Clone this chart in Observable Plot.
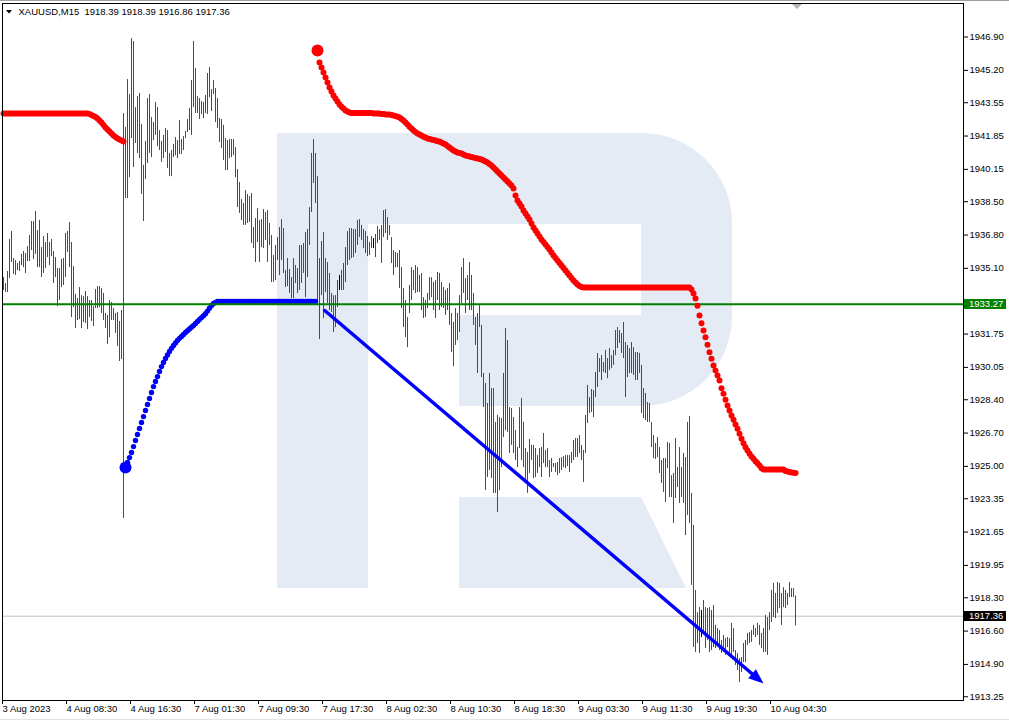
<!DOCTYPE html>
<html>
<head>
<meta charset="utf-8">
<script src="https://cdn.jsdelivr.net/npm/d3@7"></script>
<script src="https://cdn.jsdelivr.net/npm/@observablehq/plot@0.6"></script>
<style>
html,body{margin:0;padding:0;background:#fff;}
#chart{position:relative;width:1009px;height:721px;overflow:hidden;}
#chart svg{display:block;}
</style>
</head>
<body>
<div id="chart"></div>
<script>
// ---------- data ----------
const titleText = "XAUUSD,M15\u00a0\u00a01918.39 1918.39 1916.86 1917.36";

const highs = [
1934.63,1934.33,1934.94,1936.57,1936.98,1935.60,1935.50,1935.35,1935.45,1935.81,
1935.96,1935.86,1936.21,1936.78,1937.49,1937.49,1938.00,1937.03,1937.54,1936.16,
1936.72,1936.42,1936.88,1936.42,1936.57,1935.96,1935.65,1935.09,1935.09,1935.55,
1935.60,1936.88,1936.98,1937.44,1936.42,1935.19,1933.77,1933.56,1934.12,1933.71,
1933.66,1933.92,1933.66,1933.46,1933.46,1933.15,1934.02,1934.17,1934.17,1934.07,
1933.82,1932.80,1932.70,1933.46,1933.36,1933.05,1932.80,1932.85,1932.39,1932.95,
1942.99,1942.28,1944.73,1943.97,1946.82,1946.67,1943.30,1943.86,1944.02,1942.44,
1940.35,1941.57,1943.76,1943.97,1942.79,1942.54,1943.56,1943.30,1942.13,1941.57,
1941.88,1942.23,1942.13,1940.96,1941.11,1941.42,1941.77,1941.62,1942.64,1941.67,
1941.82,1942.08,1942.69,1943.25,1944.68,1946.67,1945.29,1943.86,1943.76,1943.61,
1943.56,1943.92,1945.04,1945.34,1944.22,1944.68,1944.27,1943.76,1942.74,1942.69,
1942.39,1941.72,1941.62,1941.67,1941.67,1941.67,1941.26,1940.14,1939.48,1938.61,
1938.41,1939.07,1938.87,1938.76,1938.92,1937.18,1937.64,1938.15,1937.54,1937.59,
1938.10,1937.95,1938.05,1937.39,1936.78,1935.76,1936.27,1936.67,1937.18,1937.59,
1937.13,1934.99,1935.60,1935.04,1934.63,1935.60,1935.25,1935.09,1936.27,1936.27,
1936.37,1936.93,1937.08,1938.20,1940.96,1941.67,1940.96,1939.78,1935.60,1936.47,
1936.93,1935.60,1935.40,1934.84,1933.82,1933.71,1933.71,1934.48,1934.74,1934.99,
1935.35,1936.16,1936.98,1937.13,1937.13,1937.08,1937.08,1937.54,1937.59,1937.29,
1937.08,1936.98,1936.72,1936.42,1936.72,1936.62,1936.83,1937.23,1937.08,1937.29,
1938.05,1938.10,1937.69,1937.29,1936.67,1936.01,1935.91,1935.86,1936.01,1935.14,
1934.07,1933.46,1932.59,1934.23,1935.14,1934.99,1935.25,1935.14,1934.74,1934.84,
1933.61,1933.46,1933.82,1934.63,1934.63,1934.38,1934.48,1934.89,1934.84,1934.38,
1934.12,1933.97,1934.07,1934.33,1932.80,1932.34,1933.05,1932.80,1933.71,1935.14,
1935.60,1934.58,1934.74,1935.40,1934.74,1933.82,1932.59,1932.80,1933.20,1932.19,
1929.74,1929.23,1928.21,1929.74,1928.97,1928.97,1927.24,1927.60,1927.49,1927.44,
1929.74,1932.03,1931.42,1928.00,1927.95,1927.49,1926.83,1925.96,1928.00,1928.46,
1927.24,1925.91,1925.71,1926.37,1926.07,1926.07,1925.91,1925.55,1925.91,1925.96,
1926.68,1925.81,1925.91,1925.30,1925.40,1925.15,1925.15,1925.20,1925.40,1925.45,
1925.50,1925.55,1925.55,1925.55,1925.71,1926.32,1926.42,1926.42,1926.57,1926.07,
1925.81,1927.60,1929.13,1928.51,1928.92,1928.87,1929.79,1930.76,1930.50,1930.65,
1930.30,1930.91,1930.50,1931.01,1930.65,1930.91,1931.93,1932.08,1931.93,1931.78,
1932.34,1931.32,1931.17,1931.01,1931.32,1931.06,1930.81,1930.81,1930.76,1930.15,
1928.97,1928.72,1928.26,1928.21,1927.24,1926.57,1926.17,1926.47,1925.96,1925.30,
1925.40,1925.40,1926.22,1926.17,1924.53,1924.64,1926.42,1924.94,1925.96,1924.94,
1925.66,1925.45,1927.24,1927.54,1923.62,1921.99,1918.67,1917.54,1917.80,1917.65,
1918.16,1917.80,1917.75,1917.80,1917.65,1917.90,1916.89,1916.73,1916.63,1916.12,
1916.38,1916.22,1916.27,1916.22,1916.99,1916.73,1915.61,1915.46,1915.20,1915.25,
1915.97,1916.12,1916.48,1916.53,1916.63,1916.89,1916.73,1916.99,1916.89,1916.48,
1916.73,1917.40,1917.29,1917.54,1918.67,1919.03,1918.52,1919.08,1919.03,1918.52,
1918.82,1918.67,1918.52,1919.08,1918.77,1918.77,1918.39
];

const lows = [
1933.97,1933.87,1933.87,1934.58,1935.40,1934.79,1934.74,1934.99,1934.94,1935.25,
1935.14,1934.84,1935.45,1935.45,1936.01,1935.55,1935.81,1935.14,1935.14,1934.63,
1934.84,1935.09,1935.65,1935.25,1935.70,1934.33,1934.63,1933.15,1933.46,1934.12,
1934.23,1934.63,1935.91,1935.14,1932.59,1933.10,1932.03,1932.44,1932.49,1932.03,
1932.34,1932.29,1931.98,1932.59,1932.39,1932.13,1933.05,1933.05,1933.10,1932.80,
1932.44,1932.03,1931.22,1931.57,1932.44,1932.44,1931.78,1931.11,1930.35,1930.45,
1922.34,1938.66,1938.66,1939.73,1941.72,1940.24,1941.47,1940.96,1940.70,1938.87,
1937.49,1939.63,1940.45,1940.96,1940.75,1941.62,1941.88,1941.31,1941.11,1940.50,
1940.70,1941.01,1940.19,1939.78,1939.78,1940.75,1940.85,1940.70,1940.91,1940.91,
1941.11,1941.72,1942.03,1942.13,1941.88,1943.30,1943.00,1943.00,1942.69,1942.95,
1942.74,1943.00,1942.95,1943.81,1943.10,1943.97,1942.54,1942.23,1941.52,1941.21,
1940.60,1940.09,1940.09,1940.70,1940.75,1940.85,1939.73,1938.20,1937.90,1937.54,
1937.29,1937.29,1937.39,1937.44,1936.37,1936.11,1935.40,1936.42,1935.40,1936.16,
1936.11,1936.52,1935.40,1936.27,1934.38,1934.38,1934.48,1935.50,1934.74,1935.50,
1934.84,1934.12,1934.17,1933.82,1933.56,1933.56,1934.33,1933.82,1933.97,1934.33,
1934.84,1933.61,1934.63,1936.27,1937.95,1939.43,1938.41,1933.36,1931.47,1933.71,
1932.54,1933.87,1933.31,1932.95,1932.85,1931.83,1932.08,1933.10,1933.97,1933.97,
1933.97,1934.38,1935.25,1935.50,1935.60,1935.65,1935.86,1936.27,1936.67,1936.52,
1936.11,1935.86,1935.70,1935.76,1936.11,1936.11,1935.65,1936.37,1936.52,1935.35,
1936.67,1936.88,1936.52,1936.78,1935.35,1934.74,1935.14,1935.14,1934.07,1933.05,
1932.08,1931.57,1931.06,1932.80,1933.46,1933.97,1933.82,1933.87,1933.87,1932.95,
1932.54,1932.59,1933.05,1933.46,1933.61,1932.95,1932.54,1933.46,1932.95,1933.10,
1933.05,1932.70,1932.95,1932.19,1930.81,1930.09,1931.17,1931.42,1931.83,1933.31,
1933.82,1932.80,1933.46,1932.95,1932.95,1932.19,1931.17,1929.74,1932.08,1929.53,
1928.00,1923.77,1924.43,1924.79,1924.38,1923.62,1923.62,1922.65,1923.77,1924.94,
1926.47,1926.83,1926.73,1925.66,1926.07,1925.66,1925.30,1924.94,1925.91,1925.30,
1924.94,1924.18,1923.62,1924.64,1925.30,1924.38,1924.43,1924.64,1924.94,1924.43,
1925.15,1924.94,1924.94,1924.43,1924.69,1924.94,1924.69,1924.53,1924.64,1924.79,
1924.94,1924.89,1924.99,1924.69,1925.15,1925.30,1925.45,1925.45,1925.66,1925.30,
1924.18,1925.66,1927.19,1927.70,1927.75,1927.49,1928.51,1929.02,1929.79,1929.38,
1929.79,1929.74,1929.48,1929.89,1929.99,1930.15,1930.65,1931.01,1931.27,1930.76,
1930.50,1928.51,1929.53,1929.74,1929.74,1929.64,1929.38,1929.38,1929.74,1927.70,
1927.44,1927.34,1927.24,1927.24,1925.96,1925.40,1925.35,1925.45,1924.64,1924.13,
1923.67,1923.16,1924.89,1923.41,1923.41,1922.09,1923.36,1923.92,1923.11,1923.41,
1923.11,1921.47,1922.50,1922.09,1918.93,1915.76,1915.51,1915.97,1915.46,1916.27,
1916.48,1915.71,1916.12,1915.51,1915.61,1915.76,1915.71,1915.87,1915.61,1915.46,
1915.51,1915.36,1915.76,1915.46,1915.36,1915.51,1914.85,1914.59,1913.98,1914.49,
1914.99,1914.99,1915.87,1915.97,1916.02,1916.38,1916.27,1916.38,1915.87,1915.71,
1915.51,1915.51,1915.36,1916.63,1917.04,1917.29,1917.24,1917.50,1917.75,1916.89,
1917.80,1917.75,1917.90,1918.31,1918.31,1918.31,1916.86
];

// bar direction: u = up, d = down, n = unchanged
const dirs =
  "duuududuuu" + "duuudddddu" + "ududdduduu" + "uuudddddud" + "uduudduudd" +
  "dduudududu" + "udududddud" + "uuudduuddd" + "uudduuduud" + "uduuuududu" +
  "uuuduudddu" + "duduuddddd" + "udduddudud" + "uudddduuud" + "ddudduddud" +
  "duuuuudduu" + "duuddduunu" + "uuududdudu" + "ddduundudd" + "uududduudd" +
  "dduuududdu" + "uduudduudd" + "uuddudduuu" + "dddddddudd" + "ddududuudu" +
  "uudduddduu" + "dduuduuduu" + "udduuudddu" + "duduuuuudd" + "uuuuuduudu" +
  "ududududud" + "ddudududdd" + "ududdduddu" + "duuddduddd" + "ududddudun" +
  "uduudddddu" + "udduuddddd" + "uuududdudd" + "udududuudu" + "dduddud";

// Parabolic SAR, red above price (bars 0..60)
const sarRedAStart = 0;
const sarRedA = [
1943.00,1943.00,1943.00,1943.00,1943.00,1943.00,1943.00,1943.00,1943.00,1943.00,
1943.00,1943.00,1943.00,1943.00,1943.00,1943.00,1943.00,1943.00,1943.00,1943.00,
1943.00,1943.00,1943.00,1943.00,1943.00,1943.00,1943.00,1943.00,1943.00,1943.00,
1943.00,1943.00,1943.00,1943.00,1943.00,1943.00,1943.00,1943.00,1943.00,1943.00,
1943.00,1943.00,1943.00,
1942.97,1942.92,1942.87,1942.82,1942.74,1942.64,1942.54,1942.41,1942.28,1942.18,
1942.08,1941.98,1941.88,1941.80,1941.72,1941.67,1941.62,1941.57
];

// Parabolic SAR, blue below price (bars 61..156)
const sarBlueStart = 61;
const sarBlue = [
1924.94,1925.20,1925.45,1925.71,1926.01,1926.32,1926.63,1926.93,1927.24,1927.54,
1927.85,1928.16,1928.46,1928.77,1929.07,1929.33,1929.58,1929.84,1930.09,1930.30,
1930.50,1930.68,1930.86,1931.02,1931.17,1931.30,1931.42,1931.53,1931.63,1931.73,
1931.83,1931.92,1932.01,1932.10,1932.19,1932.29,1932.39,1932.49,1932.59,1932.69,
1932.79,1932.92,1933.07,1933.21,1933.31,1933.36,1933.41,
1933.41,1933.41,1933.41,1933.41,1933.41,1933.41,1933.41,1933.41,1933.41,1933.41,
1933.41,1933.41,1933.41,1933.41,1933.41,1933.41,1933.41,1933.41,1933.41,1933.41,
1933.41,1933.41,1933.41,1933.41,1933.41,1933.41,1933.41,1933.41,1933.41,1933.41,
1933.41,1933.41,1933.41,1933.41,1933.41,1933.41,1933.41,1933.41,1933.41,1933.41,
1933.41,1933.41,1933.41,1933.41,1933.41,1933.41,1933.41,1933.41,1933.41
];

// Parabolic SAR, red above price (bars 157..396)
const sarRedBStart = 157;
const sarRedB = [
1946.21,1945.60,1945.34,1945.09,1944.83,1944.58,1944.32,1944.12,1943.92,1943.76,
1943.61,1943.46,1943.35,1943.25,1943.15,1943.10,1943.05,
1943.02,1943.02,1943.02,1943.02,1943.02,1943.02,1943.02,1943.02,1943.02,1943.02,1943.02,
1943.00,1943.00,1943.00,1943.00,
1942.97,1942.97,1942.95,1942.95,1942.95,
1942.92,1942.90,1942.87,1942.84,1942.79,1942.72,
1942.64,1942.54,1942.44,1942.33,1942.23,1942.13,1942.05,1941.98,1941.93,1941.88,
1941.82,1941.77,1941.72,1941.70,1941.67,1941.65,1941.62,1941.59,1941.57,1941.52,
1941.47,1941.42,1941.34,1941.26,1941.19,1941.11,1941.06,1941.01,1940.98,1940.96,
1940.91,1940.86,1940.83,1940.80,1940.78,1940.75,1940.73,1940.70,1940.68,1940.65,
1940.60,1940.55,1940.50,1940.42,1940.35,1940.24,1940.14,1940.04,1939.94,1939.84,
1939.73,1939.63,1939.53,1939.43,1939.33,1939.17,1938.82,1938.56,1938.41,1938.25,
1938.05,1937.90,1937.74,1937.59,1937.39,1937.18,1937.03,1936.88,1936.72,1936.57,
1936.44,1936.32,1936.19,1936.06,1935.91,1935.76,1935.63,1935.50,1935.37,1935.25,
1935.12,1934.99,1934.86,1934.74,1934.61,1934.48,1934.38,1934.28,1934.20,1934.15,
1934.12,1934.12,1934.12,1934.12,1934.12,1934.12,1934.12,1934.12,1934.12,1934.12,
1934.12,1934.12,1934.12,1934.12,1934.12,1934.12,1934.12,1934.12,1934.12,1934.12,
1934.12,1934.12,1934.12,1934.12,1934.12,1934.12,1934.12,1934.12,1934.12,1934.12,
1934.12,1934.12,1934.12,1934.12,1934.12,1934.12,1934.12,1934.12,1934.12,1934.12,
1934.12,1934.12,1934.12,1934.12,1934.12,1934.12,1934.12,1934.12,1934.12,1934.12,
1934.12,1934.12,1934.12,1934.12,
1934.02,1933.82,1933.56,1933.20,1932.70,1932.30,
1931.93,1931.59,1931.20,1930.82,1930.49,1930.15,1929.89,1929.64,1929.38,1928.99,
1928.70,1928.40,1928.10,1927.85,1927.60,1927.38,1927.14,1926.92,1926.66,1926.41,
1926.18,1925.98,1925.81,1925.64,1925.50,1925.39,1925.26,1925.16,1925.05,1924.91,
1924.84,1924.84,1924.84,1924.84,1924.84,1924.84,1924.84,1924.84,1924.84,1924.84,1924.84,
1924.77,1924.74,1924.71,1924.69,1924.67,1924.66
];

const levelGreen = 1933.27;   // horizontal level
const bidPrice = 1917.36;     // last price line
const arrowFrom = [160.6, 1932.95]; // [bar index, price]
const arrowTo = [380, 1913.93];

const xTickIdx = [0, 32, 64, 96, 128, 160, 192, 224, 256, 288, 320, 352, 384];
const xTickLabels = ["3 Aug 2023", "4 Aug 08:30", "4 Aug 16:30", "7 Aug 01:30", "7 Aug 09:30",
  "7 Aug 17:30", "8 Aug 02:30", "8 Aug 10:30", "8 Aug 18:30", "9 Aug 03:30", "9 Aug 11:30",
  "9 Aug 19:30", "10 Aug 04:30"];
const yTicks = [1946.90, 1945.20, 1943.55, 1941.85, 1940.15, 1938.50, 1936.80, 1935.10,
  1931.75, 1930.05, 1928.40, 1926.70, 1925.00, 1923.35, 1921.65, 1919.95, 1918.30,
  1916.60, 1914.90, 1913.25];

// ---------- derived tables ----------
const barColor = {u: "#008000", d: "#ff0000", n: "#000000"};
const bars = highs.map((h, i) => ({i, high: h, low: lows[i], c: barColor[dirs[i]] || "#008000"}));
const redDots = [
  ...sarRedA.map((v, k) => ({i: sarRedAStart + k, v})),
  ...sarRedB.map((v, k) => ({i: sarRedBStart + k, v}))
];
const blueDots = sarBlue.map((v, k) => ({i: sarBlueStart + k, v}));
const flipDots = [
  {i: sarBlueStart, v: sarBlue[0], c: "#0000ff"},
  {i: sarRedBStart, v: sarRedB[0], c: "#ff0000"}
];
const arrowRow = [{x1: arrowFrom[0], y1: arrowFrom[1], x2: arrowTo[0], y2: arrowTo[1]}];

const X_DOMAIN = [-0.5, 480];
const Y_DOMAIN = [1913.06, 1948.61];
const W = 1009, H = 721, ML = 2, MR = 46, MT = 3, MB = 21;
const fx = d3.scaleLinear(X_DOMAIN, [ML, W - MR]);
const fy = d3.scaleLinear(Y_DOMAIN, [H - MB, MT]);
const getX = s => (s && typeof s.x === "function") ? s.x : fx;
const getY = s => (s && typeof s.y === "function") ? s.y : fy;

// ---------- decorations ----------
const watermark = () => {
  const g = d3.create("svg:g").attr("fill", "#e5ebf4");
  g.append("path").attr("d", "M277,133H642A90,90 0 0 1 732,223V316A90,90 0 0 1 642,406H459V315H641V224H368V588H277Z");
  g.append("path").attr("d", "M459,497H641L686,588H459Z");
  return g.node();
};

const chrome = () => {
  const g = d3.create("svg:g");
  g.append("line").attr("x1", 0).attr("x2", W).attr("y1", 0.5).attr("y2", 0.5).attr("stroke", "#a0a0a0");
  g.append("line").attr("x1", 0).attr("x2", W).attr("y1", 719.5).attr("y2", 719.5).attr("stroke", "#e3e3e3");
  g.append("polygon").attr("points", "792,4 802,4 797,9").attr("fill", "#b4b4b4");
  g.append("polygon").attr("points", "6,10 12,10 9,13.5").attr("fill", "#000");
  return g.node();
};

const arrowHead = (index, scales) => {
  const sx = getX(scales), sy = getY(scales);
  const x1 = sx(arrowFrom[0]), y1 = sy(arrowFrom[1]);
  const x2 = sx(arrowTo[0]) + 0.5, y2 = sy(arrowTo[1]) + 0.5;
  const L = Math.hypot(x2 - x1, y2 - y1), ux = (x2 - x1) / L, uy = (y2 - y1) / L;
  const bx = x2 - 15 * ux, by = y2 - 15 * uy, nx = -uy, ny = ux, w = 6;
  return d3.create("svg:polygon")
    .attr("points", `${x2},${y2} ${bx + w * nx},${by + w * ny} ${bx - w * nx},${by - w * ny}`)
    .attr("fill", "#0000ff").node();
};

const priceTag = (value, fill) => (index, scales, values, dims) => {
  const sy = getY(scales);
  const y = Math.round(sy(value));
  const x0 = (dims && dims.width ? dims.width - dims.marginRight : W - MR) + 1;
  const g = d3.create("svg:g");
  g.append("rect").attr("x", x0).attr("y", y - 5).attr("width", 42).attr("height", 10).attr("fill", fill);
  g.append("text").attr("x", x0 + 5).attr("y", y).attr("dy", "0.35em")
    .attr("text-anchor", "start")
    .attr("fill", "#fff").text(value.toFixed(2));
  return g.node();
};

// ---------- chart ----------
const chart = Plot.plot({
  width: W, height: H,
  marginLeft: ML, marginRight: MR, marginTop: MT, marginBottom: MB,
  style: {background: "#fff", fontFamily: "'Liberation Sans', Arial, sans-serif", fontSize: "9.5px", color: "#000", overflow: "visible"},
  x: {type: "linear", domain: X_DOMAIN},
  y: {type: "linear", domain: Y_DOMAIN},
  color: {type: "identity"},
  marks: [
    watermark,
    Plot.ruleY([bidPrice], {stroke: "#c0c0c0"}),
    Plot.ruleX(bars, {x: "i", y1: "low", y2: "high", stroke: "c", strokeWidth: 1}),
    Plot.dot(blueDots, {x: "i", y: "v", r: 2.7, fill: "#0000ff"}),
    Plot.ruleY([levelGreen], {stroke: "#008000", strokeWidth: 2}),
    Plot.dot(redDots, {x: "i", y: "v", r: 3, fill: "#ff0000"}),
    Plot.dot(flipDots, {x: "i", y: "v", r: 6, fill: "c"}),
    Plot.arrow(arrowRow, {x1: "x1", y1: "y1", x2: "x2", y2: "y2", stroke: "#0000ff", strokeWidth: 3.5, headLength: 0, insetEnd: 10}),
    arrowHead,
    Plot.frame({stroke: "#000"}),
    Plot.axisY({ticks: yTicks, anchor: "right", tickSize: 4, tickPadding: 2, tickFormat: d => d.toFixed(2), label: null}),
    Plot.axisX({ticks: xTickIdx, anchor: "bottom", tickSize: 4, tickPadding: 1,
      tickFormat: d => xTickLabels[xTickIdx.indexOf(d)], textAnchor: "start", dx: -1, label: null}),
    Plot.text([titleText], {text: d => d, frameAnchor: "top-left", dx: 16, dy: 5, lineAnchor: "top", textAnchor: "start", fill: "#000"}),
    priceTag(levelGreen, "#008000"),
    priceTag(bidPrice, "#000000"),
    chrome
  ]
});
document.getElementById("chart").appendChild(chart);
</script>
</body>
</html>
